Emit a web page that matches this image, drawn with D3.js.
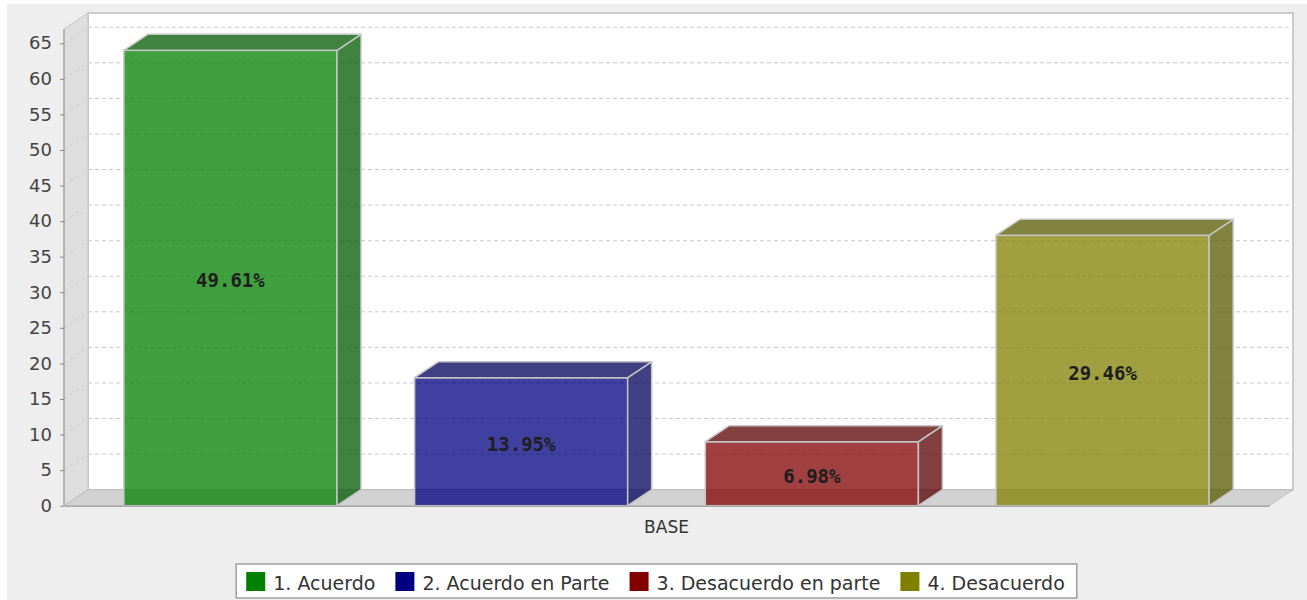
<!DOCTYPE html>
<html>
<head>
<meta charset="utf-8">
<script src="https://cdn.jsdelivr.net/npm/d3@7"></script>
<style>
  html, body { margin: 0; padding: 0; background: #ffffff; }
  svg { display: block; }
</style>
</head>
<body>
<svg id="chart" width="1307" height="600"></svg>
<script>
// ---- data ----
const categories = ["BASE"];
const seriesNames = ["1. Acuerdo", "2. Acuerdo en Parte", "3. Desacuerdo en parte", "4. Desacuerdo"];
const seriesValues = [64, 18, 9, 38];
const seriesLabels = ["49.61%", "13.95%", "6.98%", "29.46%"];
const seriesColors = ["#008000", "#000080", "#800000", "#808000"];
const yTicks = [0, 5, 10, 15, 20, 25, 30, 35, 40, 45, 50, 55, 60, 65];

// ---- layout ----
const W = 1307, H = 600;
const X0 = 64, X1 = 1269, Y0 = 29, Y1 = 505.7;   // front plot rectangle
const DX = 24, DY = 16;                           // 3D depth offset
const svg = d3.select("#chart");

svg.append("rect").attr("x", 7).attr("y", 4).attr("width", W - 7).attr("height", H - 4)
  .attr("fill", "#eeeeee");

const y = d3.scaleLinear().domain([0, 67]).range([Y1, Y0]);
const xCat = d3.scaleBand().domain(categories).range([X0, X1]).paddingInner(0).paddingOuter(0);
const xSer = d3.scaleBand().domain(seriesNames).range([X0, X1])
  .paddingInner(0.267).paddingOuter(0.206);

// back wall
svg.append("rect").attr("x", X0 + DX).attr("y", Y0 - DY)
  .attr("width", X1 - X0).attr("height", Y1 - Y0)
  .attr("fill", "#ffffff").attr("stroke", "#bdbdbd").attr("stroke-width", 1.5);

// left wall
svg.append("polygon")
  .attr("points", [[X0, Y0], [X0 + DX, Y0 - DY], [X0 + DX, Y1 - DY], [X0, Y1]].map(p => p.join(",")).join(" "))
  .attr("fill", "#dedede").attr("stroke", "#c4c4c4").attr("stroke-width", 1);

// gridlines on back wall and left wall
const grid = svg.append("g");
yTicks.filter(t => t > 0).forEach(t => {
  grid.append("line")
    .attr("x1", X0 + DX).attr("x2", X1 + DX)
    .attr("y1", y(t) - DY).attr("y2", y(t) - DY)
    .attr("stroke", "#c8c8c8").attr("stroke-width", 1).attr("stroke-dasharray", "4,3");
  grid.append("line")
    .attr("x1", X0).attr("x2", X0 + DX)
    .attr("y1", y(t)).attr("y2", y(t) - DY)
    .attr("stroke", "#cccccc").attr("stroke-width", 1).attr("stroke-dasharray", "4,3");
});

// floor
svg.append("polygon")
  .attr("points", [[X0, Y1], [X0 + DX, Y1 - DY], [X1 + DX, Y1 - DY], [X1, Y1]].map(p => p.join(",")).join(" "))
  .attr("fill", "#d2d2d2").attr("stroke", "#bdbdbd").attr("stroke-width", 1);

// bars
const darker = c => { const k = d3.rgb(c); return d3.rgb(k.r * 0.7, k.g * 0.7, k.b * 0.7).formatHex(); };
const bars = svg.append("g");
seriesNames.forEach((name, i) => {
  const bx0 = xSer(name), bx1 = xSer(name) + xSer.bandwidth();
  const yt = y(seriesValues[i]), yb = y(0);
  const g = bars.append("g");
  const outline = "#c6c6c6";
  g.append("rect").attr("x", bx0).attr("y", yt).attr("width", bx1 - bx0).attr("height", yb - yt)
    .attr("fill", seriesColors[i]).attr("fill-opacity", 0.75)
    .attr("stroke", outline).attr("stroke-width", 1.5);
  g.append("polygon")
    .attr("points", [[bx1, yt], [bx1 + DX, yt - DY], [bx1 + DX, yb - DY], [bx1, yb]].map(p => p.join(",")).join(" "))
    .attr("fill", darker(seriesColors[i])).attr("fill-opacity", 0.75)
    .attr("stroke", outline).attr("stroke-width", 1.5).attr("stroke-linejoin", "round");
  g.append("polygon")
    .attr("points", [[bx0, yt], [bx0 + DX, yt - DY], [bx1 + DX, yt - DY], [bx1, yt]].map(p => p.join(",")).join(" "))
    .attr("fill", darker(seriesColors[i])).attr("fill-opacity", 0.75)
    .attr("stroke", outline).attr("stroke-width", 1.5).attr("stroke-linejoin", "round");
  g.append("text")
    .attr("x", (bx0 + bx1) / 2).attr("y", y(seriesValues[i] / 2) + 2)
    .attr("text-anchor", "middle").attr("dominant-baseline", "central")
    .attr("font-family", "'DejaVu Sans Mono', monospace").attr("font-weight", "bold")
    .attr("font-size", 19).attr("fill", "#1e1e1e")
    .text(seriesLabels[i]);
});

// y axis
const yAxis = d3.axisLeft(y).tickValues(yTicks).tickSize(4).tickPadding(8).tickSizeOuter(0);
const ga = svg.append("g").attr("transform", `translate(${X0},0)`).call(yAxis);
ga.select(".domain").attr("stroke", "#a8a8a8").attr("stroke-width", 1.5)
  .attr("d", `M0,${Y0}V${Y1}`);
ga.selectAll(".tick line").attr("stroke", "#888888");
ga.selectAll(".tick text").attr("font-family", "'DejaVu Sans', sans-serif")
  .attr("font-size", 18).attr("fill", "#444444");

// x axis
const xAxis = d3.axisBottom(xCat).tickSize(0).tickPadding(15);
const gx = svg.append("g").attr("transform", `translate(0,${Y1})`).call(xAxis);
gx.select(".domain").attr("stroke", "#a8a8a8").attr("stroke-width", 1.5);
gx.selectAll(".tick text").attr("font-family", "'DejaVu Sans', sans-serif")
  .attr("font-size", 17).attr("fill", "#333333");

// legend
const legend = svg.append("g");
const sw = 19, gapText = 8, gapItem = 20, padL = 10, padR = 12;
let cx = 0;
const items = [];
seriesNames.forEach((name, i) => {
  const it = legend.append("g");
  it.append("rect").attr("x", 0).attr("y", 0).attr("width", sw).attr("height", sw)
    .attr("fill", seriesColors[i]);
  const t = it.append("text").attr("x", sw + gapText).attr("y", sw / 2 + 1)
    .attr("dominant-baseline", "central")
    .attr("font-family", "'DejaVu Sans', sans-serif").attr("font-size", 19)
    .attr("fill", "#333333").text(name);
  const w = sw + gapText + t.node().getComputedTextLength();
  items.push({ it, x: cx });
  cx += w + gapItem;
});
const totalW = cx - gapItem + padL + padR;
const lx = (X0 + X1) / 2 - totalW / 2 - 10, ly = 564;
legend.insert("rect", ":first-child").attr("x", lx).attr("y", ly).attr("width", totalW).attr("height", 34)
  .attr("fill", "#ffffff").attr("stroke", "#a0a0a0").attr("stroke-width", 1.5);
items.forEach(d => d.it.attr("transform", `translate(${lx + padL + d.x},${ly + 8})`));
</script>
</body>
</html>
